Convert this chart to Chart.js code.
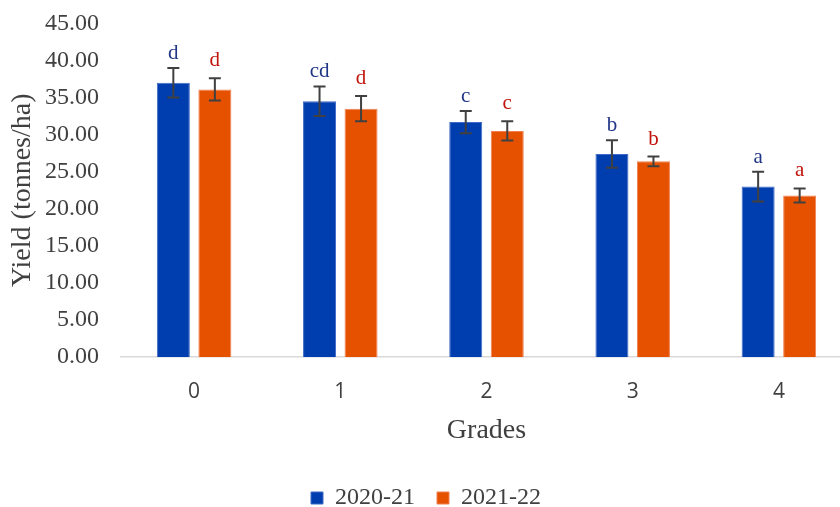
<!DOCTYPE html>
<html>
<head>
<meta charset="utf-8">
<script src="https://cdn.jsdelivr.net/npm/chart.js@4.4.1/dist/chart.umd.min.js"></script>
<style>
  html, body { margin: 0; padding: 0; background: #ffffff; overflow: hidden; }
  #wrap { width: 840px; height: 507px; overflow: hidden; }
  #c { display: block; margin-top: -13px; }
</style>
</head>
<body>
<div id="wrap"><canvas id="c" width="860" height="533"></canvas></div>
<script>
// ---- data ----
const grades = ['0', '1', '2', '3', '4'];
const seriesNames = ['2020-21', '2021-22'];
const yield2020 = [37.0, 34.5, 31.7, 27.4, 23.0];
const err2020   = [2.0, 2.0, 1.5, 1.85, 2.0];
const letters2020 = ['d', 'cd', 'c', 'b', 'a'];
const yield2021 = [36.1, 33.5, 30.5, 26.4, 21.8];
const err2021   = [1.5, 1.7, 1.3, 0.65, 0.95];
const letters2021 = ['d', 'd', 'c', 'b', 'a'];
const yTicks = [0, 5, 10, 15, 20, 25, 30, 35, 40, 45];

const serif = "'Liberation Serif', 'Times New Roman', serif";
const textColor = '#404040';

const errorBarPlugin = {
  id: 'errorBars',
  afterDatasetsDraw(chart) {
    const ctx = chart.ctx;
    const yScale = chart.scales.y;
    chart.data.datasets.forEach((ds, i) => {
      const meta = chart.getDatasetMeta(i);
      if (meta.hidden) return;
      meta.data.forEach((bar, j) => {
        const v = ds.data[j];
        const e = ds.errors[j];
        const x = bar.x;
        const yTop = yScale.getPixelForValue(v + e);
        const yBot = yScale.getPixelForValue(v - e);
        ctx.save();
        ctx.strokeStyle = '#404040';
        ctx.lineWidth = 2;
        ctx.beginPath();
        ctx.moveTo(x, yTop); ctx.lineTo(x, yBot);
        ctx.moveTo(x - 6, yTop); ctx.lineTo(x + 6, yTop);
        ctx.moveTo(x - 6, yBot); ctx.lineTo(x + 6, yBot);
        ctx.stroke();
        ctx.fillStyle = ds.letterColor;
        ctx.font = '21px ' + serif;
        ctx.textAlign = 'center';
        ctx.textBaseline = 'alphabetic';
        ctx.fillText(ds.letters[j], x, yTop - ds.letterGap);
        ctx.restore();
      });
    });
  }
};

new Chart(document.getElementById('c'), {
  type: 'bar',
  data: {
    labels: grades,
    datasets: [
      {
        label: seriesNames[0],
        data: yield2020,
        errors: err2020,
        letters: letters2020,
        letterColor: '#1F3586',
        letterGap: 9,
        backgroundColor: '#003DAE',
        borderColor: '#3F6BC6',
        borderWidth: 1,
        categoryPercentage: 0.568,
        barPercentage: 0.795
      },
      {
        label: seriesNames[1],
        data: yield2021,
        errors: err2021,
        letters: letters2021,
        letterColor: '#C0140C',
        letterGap: 12,
        backgroundColor: '#E65100',
        borderColor: '#F08050',
        borderWidth: 1,
        categoryPercentage: 0.568,
        barPercentage: 0.795
      }
    ]
  },
  options: {
    responsive: false,
    animation: false,
    layout: { padding: { left: 0, right: 8, top: 0, bottom: 0 } },
    plugins: {
      legend: {
        position: 'bottom',
        labels: {
          font: { family: serif, size: 24 },
          color: textColor,
          boxWidth: 12,
          boxHeight: 12,
          padding: 22
        }
      },
      tooltip: { enabled: false }
    },
    scales: {
      x: {
        grid: { display: false, drawTicks: false },
        border: { display: true, color: '#D9D9D9', width: 1.5 },
        ticks: {
          font: { family: "'Open Sans', sans-serif", size: 21 },
          color: textColor,
          padding: 22
        },
        title: {
          display: true,
          text: 'Grades',
          font: { family: serif, size: 28 },
          color: textColor,
          padding: { top: -13, bottom: 17 }
        }
      },
      y: {
        min: 0,
        max: 45,
        afterBuildTicks(scale) {
          scale.ticks = yTicks.map(v => ({ value: v }));
        },
        afterFit(scale) { scale.width = 121; },
        grid: { display: false, drawTicks: false },
        border: { display: false },
        ticks: {
          font: { family: serif, size: 24 },
          color: textColor,
          padding: 22,
          callback: v => Number(v).toFixed(2)
        },
        title: {
          display: true,
          text: 'Yield (tonnes/ha)',
          font: { family: serif, size: 28 },
          color: textColor,
          padding: { top: 6, bottom: 0 }
        }
      }
    }
  },
  plugins: [errorBarPlugin]
});
</script>
</body>
</html>
